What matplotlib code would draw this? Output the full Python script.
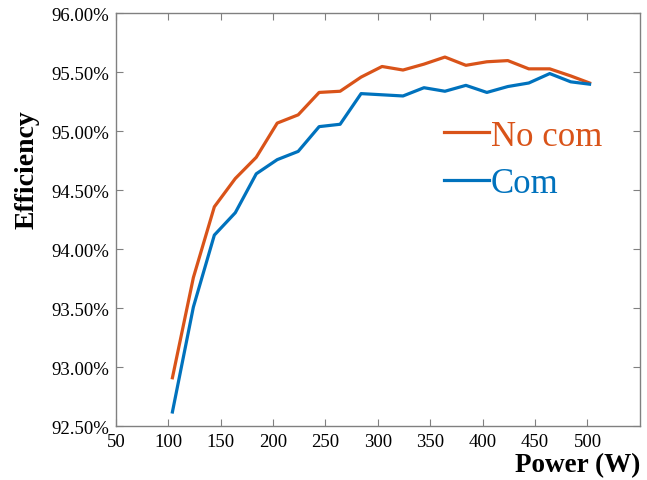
import numpy as np
import matplotlib
matplotlib.use("Agg")
import matplotlib.pyplot as plt
from matplotlib.ticker import FuncFormatter

# data
power = [104, 124, 144, 164, 184, 204, 224, 244, 264, 284, 304,
         324, 344, 364, 384, 404, 424, 444, 464, 484, 502]
eff_no_com = [92.91, 93.76, 94.36, 94.60, 94.78, 95.07, 95.14, 95.33, 95.34, 95.46, 95.55,
              95.52, 95.57, 95.63, 95.56, 95.59, 95.60, 95.53, 95.53, 95.47, 95.41]
eff_com = [92.62, 93.51, 94.12, 94.31, 94.64, 94.76, 94.83, 95.04, 95.06, 95.32, 95.31,
           95.30, 95.37, 95.34, 95.39, 95.33, 95.38, 95.41, 95.49, 95.42, 95.40]

plt.rcParams['font.family'] = ['Liberation Serif', 'DejaVu Serif']

fig = plt.figure(figsize=(6.47, 4.81), dpi=100)
ax = fig.add_axes([0.179, 0.112, 0.81, 0.858])

ax.plot(power, eff_no_com, color='#D95319', lw=2.3, label='No com')
ax.plot(power, eff_com, color='#0072BD', lw=2.3, label='Com')

ax.set_xlim(50, 550)
ax.set_ylim(92.5, 96.0)
ax.set_xticks(np.arange(50, 501, 50))
ax.set_yticks(np.arange(92.5, 96.01, 0.5))
ax.yaxis.set_major_formatter(FuncFormatter(lambda v, p: '%.2f%%' % v))

for s in ax.spines.values():
    s.set_color('#808080')
    s.set_linewidth(1.0)
ax.tick_params(direction='in', top=True, right=True, color='#808080',
               length=5, labelsize=13.5, labelcolor='black', pad=5)

ax.set_xlabel('Power (W)', fontsize=19.5, fontweight='bold', loc='right', labelpad=1.5)
ax.xaxis.label.set_x(1.0)
ax.set_ylabel('Efficiency', fontsize=20, fontweight='bold')
ax.yaxis.set_label_coords(-0.145, 0.625)

leg = ax.legend(loc='center left', bbox_to_anchor=(0.626, 0.645), frameon=False,
                fontsize=25, handlelength=1.3, handletextpad=0.05,
                labelspacing=0.42, borderpad=0, borderaxespad=0,
                labelcolor='linecolor')

fig.savefig('out.png', dpi=100)
